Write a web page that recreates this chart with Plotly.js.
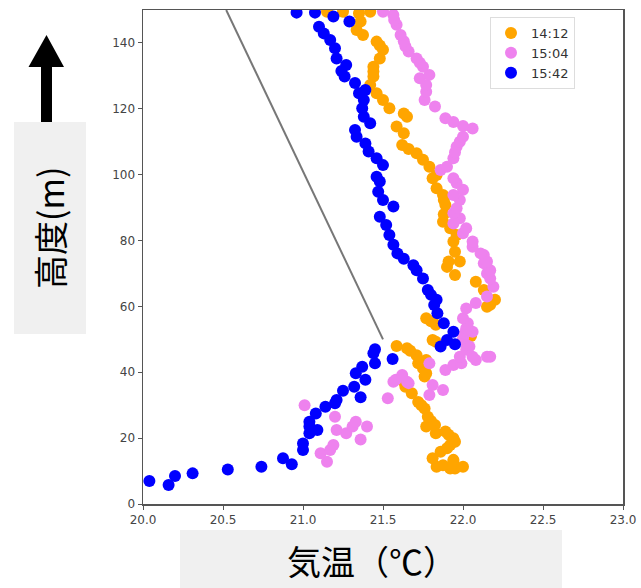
<!DOCTYPE html>
<html>
<head>
<meta charset="utf-8">
<script src="https://cdn.plot.ly/plotly-3.0.1.min.js"></script>
<style>html,body{margin:0;padding:0;background:#fff;}#chart{width:641px;height:588px;}</style>
</head>
<body>
<div id="chart"></div>
<script>
// ---- data ----
const seriesNames = ["14:12", "15:04", "15:42"];

const orangeT = [22.0,21.95,21.92,21.835,21.875,21.94,21.94,21.81,21.86,21.90,21.92,21.95,21.94,21.91,21.83,21.89,21.77,21.825,21.80,21.78,21.76,21.74,21.72,21.68,21.64,21.63,21.76,21.77,21.75,21.72,21.77,21.71,21.67,21.65,21.585,21.83,21.81,22.05,21.83,21.80,21.77,22.15,22.17,22.2,22.13,22.08,21.95,21.90,21.98,21.91,21.95,21.94,21.96,21.92,21.875,21.88,21.89,21.88,21.875,21.835,21.81,21.835,21.79,21.75,21.71,21.66,21.62,21.63,21.585,21.65,21.63,21.54,21.50,21.46,21.42,21.44,21.44,21.44,21.48,21.50,21.48,21.46,21.375,21.335,21.36,21.15,21.25,21.35,21.42];
const orangeH = [11.3,10.8,10.8,11.3,11.8,12.8,13.4,13.9,15.9,16.9,17.9,18.9,20,21,21.5,22,23.5,24,25.2,26.5,29,30,31,33.6,35.6,37.1,38.7,39.7,41.2,42.7,43.7,45.2,46.5,47.3,48,49.3,49.8,51,54.4,55.5,56.4,59.9,60.5,62,65,67.5,69.5,72,73.6,73.6,76.6,79.7,81.7,83.7,85.7,88,90.8,92.3,93.8,95.9,98.9,99.9,102.4,104.5,106.5,107.8,109,112.6,114.6,117.6,118.6,120.2,122.7,124.7,127.2,129.8,131.3,132.8,135.3,137.9,139.2,140.4,142.4,143.9,146.5,149.5,149.5,149,149.5];

const pinkT = [21.15,21.11,21.17,21.19,21.36,21.27,21.21,21.31,21.40,21.33,21.20,21.01,21.53,21.79,21.875,21.81,21.66,21.565,21.65,21.58,21.62,21.89,21.79,21.94,21.99,22.08,22.15,22.06,22.17,21.98,22.02,22.04,22.02,22.0,22.01,22.06,22.02,22.03,22.0,22.02,22.08,22.15,22.19,22.17,22.15,22.17,22.13,22.15,22.13,22.11,22.06,22.06,22.0,22.02,21.98,21.94,21.94,21.96,21.98,21.94,22.0,21.96,21.94,21.86,21.90,21.94,21.95,21.96,21.98,22.0,22.06,22.0,21.94,21.89,21.825,21.76,21.77,21.77,21.73,21.79,21.75,21.73,21.71,21.66,21.64,21.63,21.61,21.585,21.57,21.565,21.50];
const pinkH = [12.8,15.4,16.4,17.9,19.6,21.5,22.5,23.5,23.5,25,26.5,30,32.1,33.1,34.6,36.1,36.7,37.1,37.1,37.7,39.2,40.7,42.7,42.2,42.7,43.7,44.7,44.7,44.7,44.7,46.8,47.8,48.3,50.3,51.8,52.3,53.4,54.9,56.4,59.4,61,63,66,68.5,70,71,73.1,73.6,75.6,76.1,78.1,79.7,82.2,83.7,86.8,85.2,88.3,89.8,92.3,93.8,95.4,97.5,98.9,101.4,102.4,105,106.8,108.5,110,111.5,114,114.8,116,117.1,120.7,122.7,125.2,127.2,129.3,130.3,132.8,134,135.3,137.4,139,140.5,142.4,145.5,147,148.5,149.5];

const blueT = [20.04,20.16,20.20,20.31,20.53,20.74,20.875,20.93,21.0,21.0,21.04,21.09,21.04,21.04,21.08,21.14,21.20,21.21,21.36,21.25,21.32,21.39,21.33,21.37,21.45,21.56,21.44,21.45,21.86,21.95,21.90,21.94,21.88,21.84,21.82,21.835,21.80,21.78,21.75,21.71,21.69,21.63,21.59,21.565,21.54,21.52,21.48,21.565,21.50,21.47,21.48,21.46,21.50,21.46,21.41,21.39,21.335,21.325,21.42,21.38,21.37,21.38,21.35,21.39,21.325,21.26,21.27,21.24,21.21,21.20,21.17,21.13,21.10,21.29,21.19,21.075,20.96];
const blueH = [7.0,5.8,8.5,9.3,10.5,11.3,13.9,12.1,16.4,18.4,21.5,22.5,23.5,25,27.5,29.5,30.6,31.6,32.4,34.4,35.6,37.7,39.7,41.7,42.7,44,45.8,47,47.8,48.5,49.8,52.3,54.9,57.9,60.4,62,63.5,65,68.5,71,72.5,74.5,76.1,78.7,81.7,84.7,87.2,90.3,92.3,94.8,97.9,99.4,102.9,105,107,109.5,111.5,113.6,115.6,117.6,120.2,122.7,124.7,125.7,127.8,129.8,133.3,131.5,135.3,138.4,140.9,142.9,144.9,146.5,148,149.2,149.2];

const refLineT = [20.52, 21.50];
const refLineH = [150, 50];

const xTickVals = [20.0, 20.5, 21.0, 21.5, 22.0, 22.5, 23.0];
const yTickVals = [0, 20, 40, 60, 80, 100, 120, 140];
const xLabel = "気温（℃）";
const yLabel = "高度(m)";

// ---- layout helpers (pixel -> paper) ----
const W = 641, H = 588;
const M = {l: 143, r: 18, t: 10, b: 84};
const pw = W - M.l - M.r, ph = H - M.t - M.b;
const px = v => (v - M.l) / pw;
const py = v => (H - M.b - v) / ph;

const mk = (c) => ({color: c, size: 12, line: {width: 0}});

const traces = [
  {x: refLineT, y: refLineH, mode: "lines", line: {color: "#777777", width: 2}, showlegend: false, hoverinfo: "skip"},
  {x: orangeT, y: orangeH, mode: "markers", name: seriesNames[0], marker: mk("#FFA500")},
  {x: pinkT, y: pinkH, mode: "markers", name: seriesNames[1], marker: mk("#EE82EE")},
  {x: blueT, y: blueH, mode: "markers", name: seriesNames[2], marker: mk("#0000FF")}
];

const arrowPath = () => {
  const pts = [[41,122],[52,122],[52,67],[64,67],[46.5,35],[28.5,67],[41,67]];
  return "M " + pts.map(p => px(p[0]) + "," + py(p[1])).join(" L ") + " Z";
};

const layout = {
  width: W, height: H,
  margin: M,
  paper_bgcolor: "#fff", plot_bgcolor: "#fff",
  font: {family: "DejaVu Sans", size: 12, color: "#444"},
  xaxis: {range: [20, 23], tickvals: xTickVals, tickformat: ".1f", ticks: "outside", ticklen: 4, tickcolor: "#555",
          showline: true, linecolor: "#555", linewidth: 1.5, mirror: true, showgrid: false, zeroline: false,
          tickfont: {family: "DejaVu Sans", size: 12, color: "#444"}},
  yaxis: {range: [0, 150], tickvals: yTickVals, ticks: "outside", ticklen: 4, tickcolor: "#555",
          showline: true, linecolor: "#555", linewidth: 1.5, mirror: true, showgrid: false, zeroline: false,
          tickfont: {family: "DejaVu Sans", size: 12, color: "#444"}},
  legend: {x: px(490), y: py(17), xanchor: "left", yanchor: "top", bgcolor: "rgba(255,255,255,0.9)",
           bordercolor: "#ddd", borderwidth: 1, font: {family: "DejaVu Sans", size: 13, color: "#333"}},
  shapes: [
    {type: "rect", xref: "paper", yref: "paper", x0: px(14), x1: px(86), y0: py(334), y1: py(122), fillcolor: "#f0f0f0", line: {width: 0}, layer: "below"},
    {type: "rect", xref: "paper", yref: "paper", x0: px(180), x1: px(562), y0: py(588), y1: py(530), fillcolor: "#f0f0f0", line: {width: 0}, layer: "below"},
    {type: "path", xref: "paper", yref: "paper", path: arrowPath(), fillcolor: "#000", line: {width: 0}}
  ],
  annotations: [
    {text: yLabel, xref: "paper", yref: "paper", x: px(50), y: py(228), showarrow: false, textangle: -90,
     xanchor: "center", yanchor: "middle", font: {family: "Noto Sans CJK JP", size: 34, color: "#000"}},
    {text: xLabel, xref: "paper", yref: "paper", x: px(372), y: py(560), showarrow: false,
     xanchor: "center", yanchor: "middle", font: {family: "Noto Sans CJK JP", size: 34, color: "#000"}}
  ]
};

Plotly.newPlot("chart", traces, layout, {displayModeBar: false, staticPlot: true});
</script>
</body>
</html>
